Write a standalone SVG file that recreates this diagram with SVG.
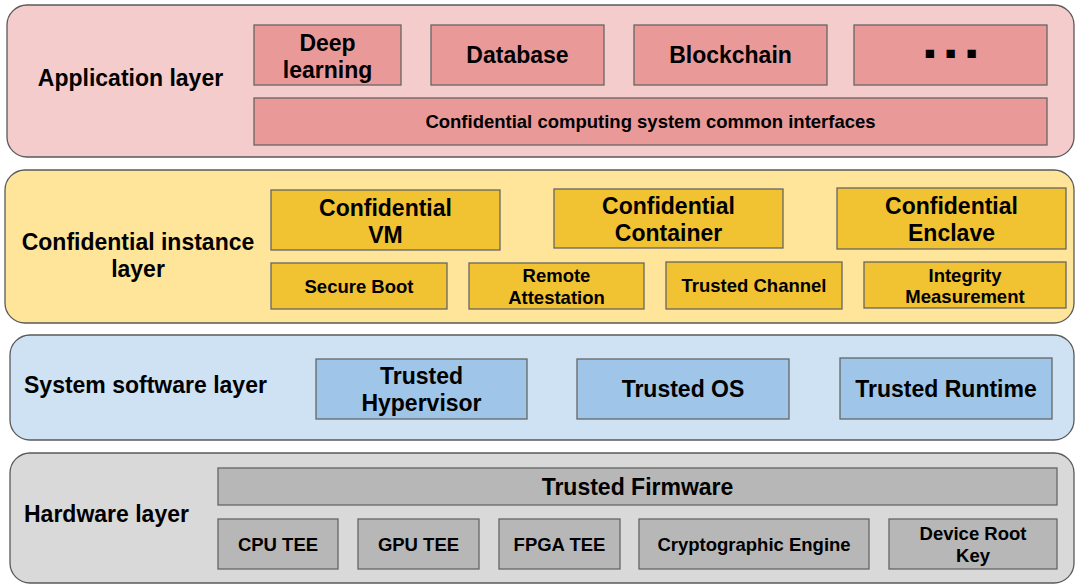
<svg xmlns="http://www.w3.org/2000/svg" width="1075" height="584" viewBox="0 0 1075 584">
  <style>
    text { font-family: "Liberation Sans", Arial, sans-serif; font-weight: bold; fill: #000; }
    .lbl { font-size: 23px; }
    .big { font-size: 23px; text-anchor: middle; }
    .sm { font-size: 18.5px; text-anchor: middle; }
    .layer { stroke: #595959; stroke-width: 1.3; }
    .box { stroke: #666666; stroke-width: 1.3; }
    .app-l { fill: #f4cccc; } .app-b { fill: #ea9999; }
    .ci-l { fill: #ffe599; } .ci-b { fill: #f1c232; }
    .ss-l { fill: #cfe2f3; } .ss-b { fill: #9fc5e8; }
    .hw-l { fill: #d9d9d9; } .hw-b { fill: #b7b7b7; }
  </style>
  <rect width="1075" height="584" fill="#ffffff"/>

  <!-- Application layer -->
  <g id="application-layer">
    <rect class="layer app-l" x="7" y="5" width="1067" height="152" rx="20"/>
    <text class="lbl" x="130.5" y="86" text-anchor="middle">Application layer</text>
  </g>
  <g id="deep-learning">
    <rect class="box app-b" x="254" y="25" width="147" height="60"/>
    <text class="big" x="327.5" y="51">Deep</text>
    <text class="big" x="327.5" y="78">learning</text>
  </g>
  <g id="database">
    <rect class="box app-b" x="431" y="25" width="173" height="60"/>
    <text class="big" x="517.5" y="63">Database</text>
  </g>
  <g id="blockchain">
    <rect class="box app-b" x="634" y="25" width="193" height="60"/>
    <text class="big" x="730.5" y="63">Blockchain</text>
  </g>
  <g id="more-apps">
    <rect class="box app-b" x="854" y="25" width="193" height="60"/>
    <text class="big" x="930 950.7 971.7" y="59" style="font-size:17px">■■■</text>
  </g>
  <g id="common-interfaces">
    <rect class="box app-b" x="254" y="98" width="793" height="47"/>
    <text class="sm" x="650.5" y="128">Confidential computing system common interfaces</text>
  </g>

  <!-- Confidential instance layer -->
  <g id="confidential-instance-layer">
    <rect class="layer ci-l" x="5" y="170" width="1069" height="153" rx="20"/>
    <text class="lbl" x="138" y="250" text-anchor="middle">Confidential instance</text>
    <text class="lbl" x="138" y="277" text-anchor="middle">layer</text>
  </g>
  <g id="confidential-vm">
    <rect class="box ci-b" x="271" y="190" width="229" height="60"/>
    <text class="big" x="385.5" y="216">Confidential</text>
    <text class="big" x="385.5" y="243">VM</text>
  </g>
  <g id="confidential-container">
    <rect class="box ci-b" x="554" y="189" width="229" height="59"/>
    <text class="big" x="668.5" y="214">Confidential</text>
    <text class="big" x="668.5" y="241">Container</text>
  </g>
  <g id="confidential-enclave">
    <rect class="box ci-b" x="837" y="188" width="229" height="61"/>
    <text class="big" x="951.5" y="213.5">Confidential</text>
    <text class="big" x="951.5" y="240.5">Enclave</text>
  </g>
  <g id="secure-boot">
    <rect class="box ci-b" x="271" y="263" width="176" height="46"/>
    <text class="sm" x="359" y="293">Secure Boot</text>
  </g>
  <g id="remote-attestation">
    <rect class="box ci-b" x="469" y="263" width="175" height="46"/>
    <text class="sm" x="556.5" y="282">Remote</text>
    <text class="sm" x="556.5" y="303.5">Attestation</text>
  </g>
  <g id="trusted-channel">
    <rect class="box ci-b" x="666" y="262" width="176" height="47"/>
    <text class="sm" x="754" y="292">Trusted Channel</text>
  </g>
  <g id="integrity-measurement">
    <rect class="box ci-b" x="864" y="262" width="202" height="46"/>
    <text class="sm" x="965" y="281.5">Integrity</text>
    <text class="sm" x="965" y="303">Measurement</text>
  </g>

  <!-- System software layer -->
  <g id="system-software-layer">
    <rect class="layer ss-l" x="10" y="335" width="1064" height="105" rx="20"/>
    <text class="lbl" x="24" y="393">System software layer</text>
  </g>
  <g id="trusted-hypervisor">
    <rect class="box ss-b" x="316" y="359" width="211" height="60"/>
    <text class="big" x="421.5" y="384">Trusted</text>
    <text class="big" x="421.5" y="411">Hypervisor</text>
  </g>
  <g id="trusted-os">
    <rect class="box ss-b" x="577" y="359" width="212" height="60"/>
    <text class="big" x="683" y="397">Trusted OS</text>
  </g>
  <g id="trusted-runtime">
    <rect class="box ss-b" x="840" y="358" width="212" height="61"/>
    <text class="big" x="946" y="397">Trusted Runtime</text>
  </g>

  <!-- Hardware layer -->
  <g id="hardware-layer">
    <rect class="layer hw-l" x="10" y="453" width="1064" height="130" rx="20"/>
    <text class="lbl" x="24" y="521.5">Hardware layer</text>
  </g>
  <g id="trusted-firmware">
    <rect class="box hw-b" x="218" y="468" width="839" height="37"/>
    <text class="big" x="637.5" y="494.5">Trusted Firmware</text>
  </g>
  <g id="cpu-tee">
    <rect class="box hw-b" x="218" y="519" width="120" height="50"/>
    <text class="sm" x="278" y="551">CPU TEE</text>
  </g>
  <g id="gpu-tee">
    <rect class="box hw-b" x="358" y="519" width="121" height="50"/>
    <text class="sm" x="418.5" y="551">GPU TEE</text>
  </g>
  <g id="fpga-tee">
    <rect class="box hw-b" x="499" y="519" width="121" height="50"/>
    <text class="sm" x="559.5" y="551">FPGA TEE</text>
  </g>
  <g id="cryptographic-engine">
    <rect class="box hw-b" x="639" y="519" width="230" height="50"/>
    <text class="sm" x="754" y="551">Cryptographic Engine</text>
  </g>
  <g id="device-root-key">
    <rect class="box hw-b" x="889" y="519" width="168" height="50"/>
    <text class="sm" x="973" y="540">Device Root</text>
    <text class="sm" x="973" y="562">Key</text>
  </g>

  <!-- no connectors in this layered stack -->
  <g id="connectors"/>
</svg>
